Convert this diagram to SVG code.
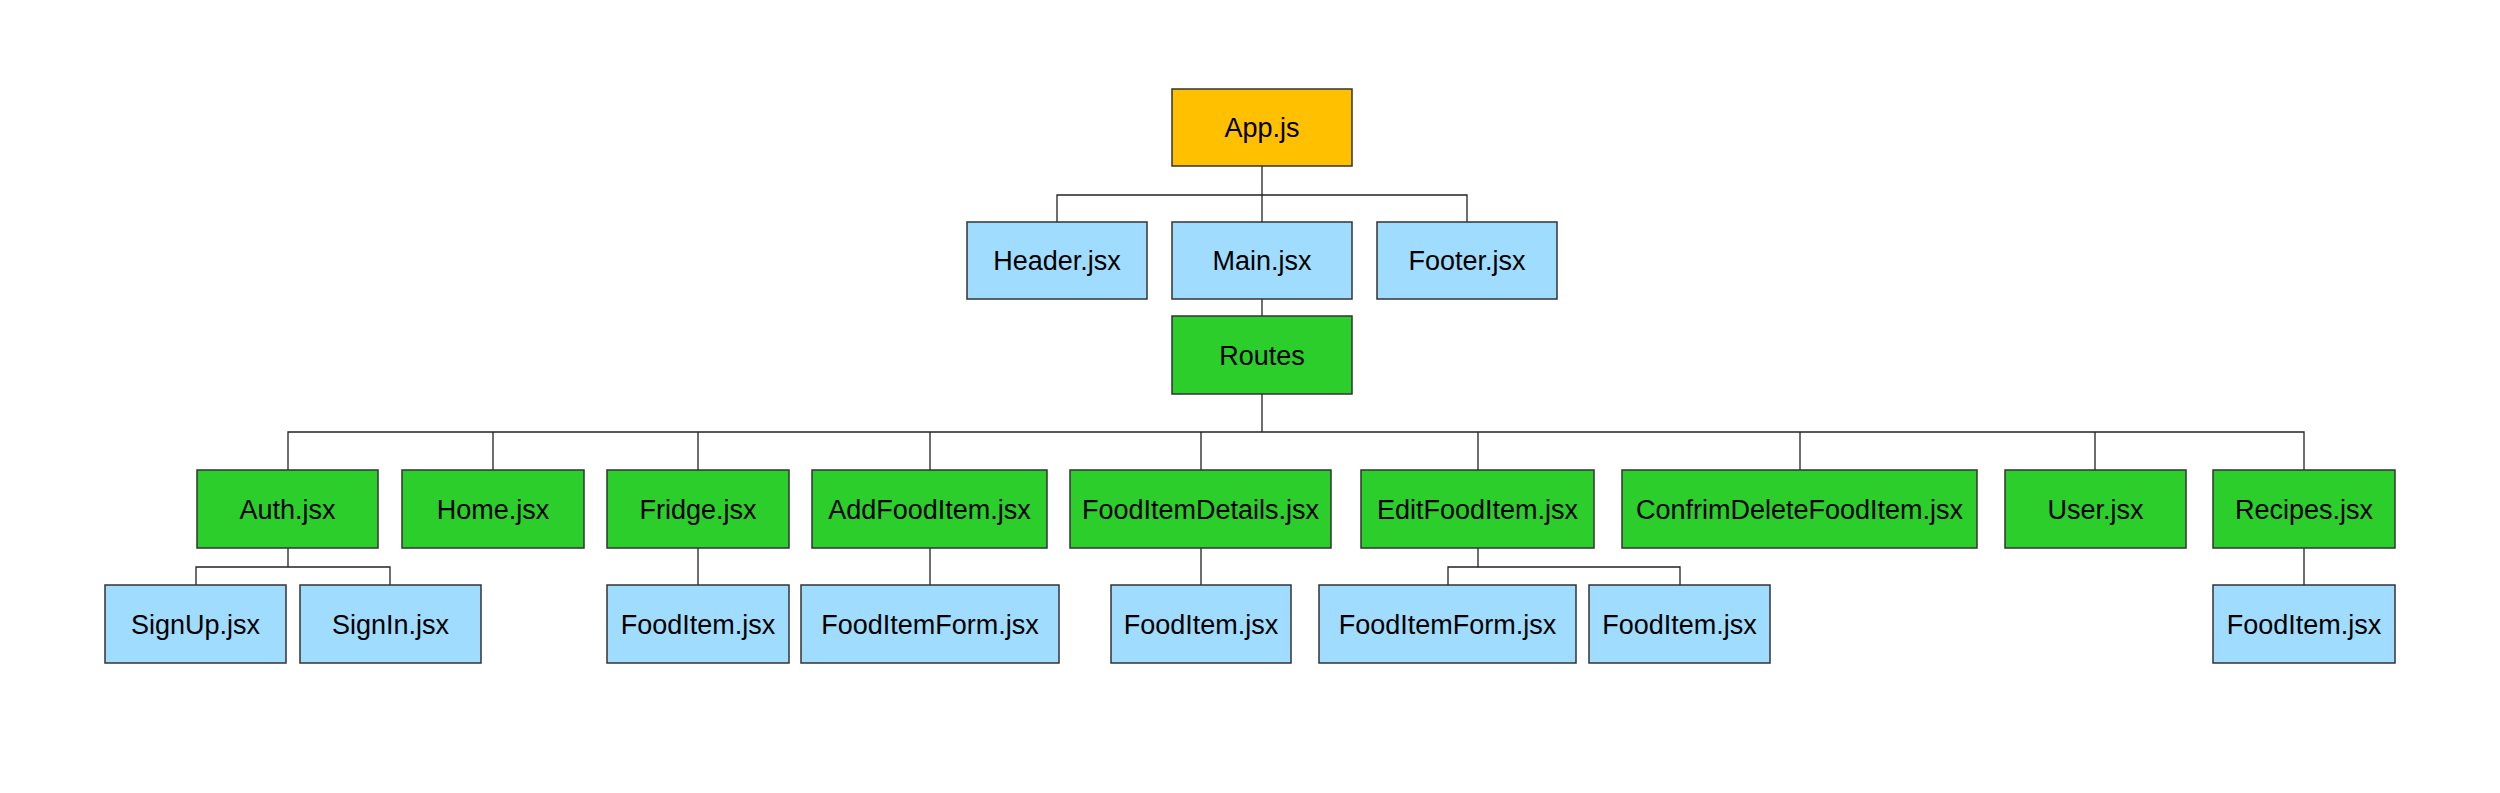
<svg xmlns="http://www.w3.org/2000/svg" width="2500" height="793" viewBox="0 0 2500 793">
<style>
rect{stroke:#333;stroke-width:1.5}
.y{fill:#FFC000}
.b{fill:#9FDCFE}
.g{fill:#2BCE2B}
text{font-family:"Liberation Sans",Arial,sans-serif;font-size:27px;fill:#000;text-anchor:middle}
.c path{fill:none;stroke:#222;stroke-width:1.3}
</style>
<rect width="2500" height="793" fill="#fff" style="stroke:none"/>
<g class="c" id="connectors">
<path d="M1262 166V195M1057 222V195H1467V222M1262 195V222"/>
<path d="M1262 299V316"/>
<path d="M1262 394V432M288 470V432H2304V470M493 432V470M698 432V470M930 432V470M1201 432V470M1478 432V470M1800 432V470M2095 432V470"/>
<path d="M288 548V567M196 585V567H390V585"/>
<path d="M698 548V585M930 548V585M1201 548V585M2304 548V585"/>
<path d="M1478 548V567M1448 585V567H1680V585"/>
</g>
<g id="app"><rect class="y" x="1172" y="89" width="180" height="77"/><text x="1262" y="137">App.js</text></g>
<g id="header"><rect class="b" x="967" y="222" width="180" height="77"/><text x="1057" y="270">Header.jsx</text></g>
<g id="main"><rect class="b" x="1172" y="222" width="180" height="77"/><text x="1262" y="270">Main.jsx</text></g>
<g id="footer"><rect class="b" x="1377" y="222" width="180" height="77"/><text x="1467" y="270">Footer.jsx</text></g>
<g id="routes"><rect class="g" x="1172" y="316" width="180" height="78"/><text x="1262" y="364.5">Routes</text></g>
<g id="auth"><rect class="g" x="197" y="470" width="181" height="78"/><text x="287.5" y="518.5">Auth.jsx</text></g>
<g id="home"><rect class="g" x="402" y="470" width="182" height="78"/><text x="493" y="518.5">Home.jsx</text></g>
<g id="fridge"><rect class="g" x="607" y="470" width="182" height="78"/><text x="698" y="518.5">Fridge.jsx</text></g>
<g id="addfooditem"><rect class="g" x="812" y="470" width="235" height="78"/><text x="929.5" y="518.5">AddFoodItem.jsx</text></g>
<g id="fooditemdetails"><rect class="g" x="1070" y="470" width="261" height="78"/><text x="1200.5" y="518.5">FoodItemDetails.jsx</text></g>
<g id="editfooditem"><rect class="g" x="1361" y="470" width="233" height="78"/><text x="1477.5" y="518.5">EditFoodItem.jsx</text></g>
<g id="confrimdelete"><rect class="g" x="1622" y="470" width="355" height="78"/><text x="1799.5" y="518.5">ConfrimDeleteFoodItem.jsx</text></g>
<g id="user"><rect class="g" x="2005" y="470" width="181" height="78"/><text x="2095.5" y="518.5">User.jsx</text></g>
<g id="recipes"><rect class="g" x="2213" y="470" width="182" height="78"/><text x="2304" y="518.5">Recipes.jsx</text></g>
<g id="signup"><rect class="b" x="105" y="585" width="181" height="78"/><text x="195.5" y="633.5">SignUp.jsx</text></g>
<g id="signin"><rect class="b" x="300" y="585" width="181" height="78"/><text x="390.5" y="633.5">SignIn.jsx</text></g>
<g id="fooditem1"><rect class="b" x="607" y="585" width="182" height="78"/><text x="698" y="633.5">FoodItem.jsx</text></g>
<g id="fooditemform1"><rect class="b" x="801" y="585" width="258" height="78"/><text x="930" y="633.5">FoodItemForm.jsx</text></g>
<g id="fooditem2"><rect class="b" x="1111" y="585" width="180" height="78"/><text x="1201" y="633.5">FoodItem.jsx</text></g>
<g id="fooditemform2"><rect class="b" x="1319" y="585" width="257" height="78"/><text x="1447.5" y="633.5">FoodItemForm.jsx</text></g>
<g id="fooditem3"><rect class="b" x="1589" y="585" width="181" height="78"/><text x="1679.5" y="633.5">FoodItem.jsx</text></g>
<g id="fooditem4"><rect class="b" x="2213" y="585" width="182" height="78"/><text x="2304" y="633.5">FoodItem.jsx</text></g>
</svg>
